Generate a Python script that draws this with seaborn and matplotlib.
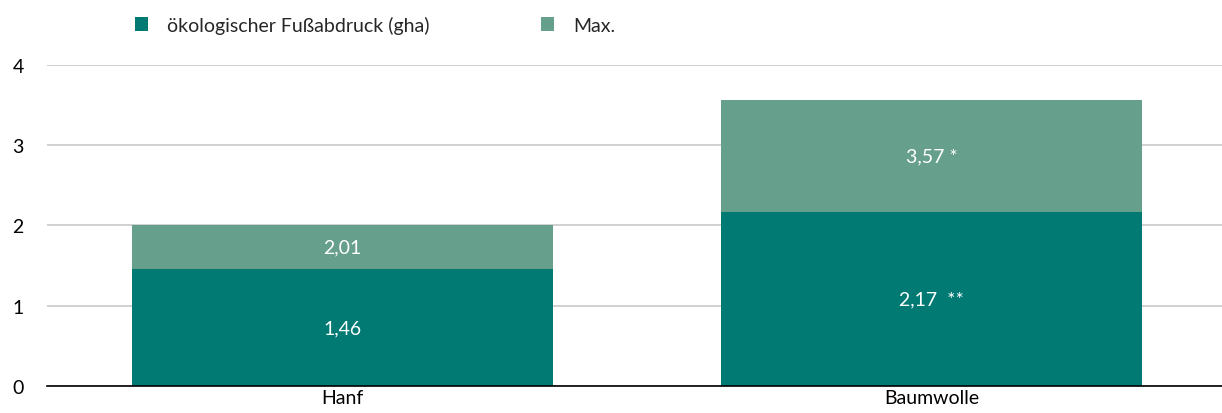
import matplotlib
matplotlib.use("Agg")
import matplotlib.pyplot as plt
import seaborn as sns
import pandas as pd
from matplotlib.patches import Patch

# Data
categories = ["Hanf", "Baumwolle"]
footprint = [1.46, 2.17]          # ökologischer Fußabdruck (gha)
maximum = [2.01, 3.57]            # Max.
footprint_labels = ["1,46", "2,17  **"]
maximum_labels = ["2,01", "3,57 *"]
y_ticks = [0, 1, 2, 3, 4]

dark = "#007A73"
light = "#66A08C"

sns.set_theme(style="white")
plt.rcParams["font.family"] = ["Lato", "DejaVu Sans"]

df = pd.DataFrame({"cat": categories, "val": footprint, "max": maximum})

fig = plt.figure(figsize=(12.22, 4.14), dpi=100)
ax = fig.add_axes([0.0385, 0.0652, 0.9615, 0.7754])

width = 0.715
sns.barplot(data=df, x="cat", y="max", color=light, saturation=1, width=width,
            linewidth=0, ax=ax, zorder=2)
sns.barplot(data=df, x="cat", y="val", color=dark, saturation=1, width=width,
            linewidth=0, ax=ax, zorder=3)

ax.set_xlim(-0.502, 1.493)
ax.set_ylim(0, 4)
ax.set_yticks(y_ticks)
ax.set_xlabel("")
ax.set_ylabel("")
for s in ["top", "right", "left"]:
    ax.spines[s].set_visible(False)
ax.spines["bottom"].set_color("black")
ax.spines["bottom"].set_linewidth(1.2)
ax.spines["bottom"].set_zorder(5)
ax.yaxis.grid(True, color="#C8C8C8", linewidth=1.2, zorder=0)
ax.set_axisbelow(True)
ax.tick_params(axis="both", length=0, labelsize=14, colors="black")
ax.tick_params(axis="y", pad=25)
ax.tick_params(axis="x", pad=2)
for lbl in ax.get_yticklabels():
    lbl.set_horizontalalignment("left")

# Value labels centred in each segment
for i in range(len(categories)):
    ax.text(i, footprint[i] / 2, footprint_labels[i], ha="center", va="center",
            color="white", fontsize=14, zorder=6)
    ax.text(i, (footprint[i] + maximum[i]) / 2, maximum_labels[i], ha="center",
            va="center", color="white", fontsize=14, zorder=6)

handles = [Patch(facecolor=dark, edgecolor="none"), Patch(facecolor=light, edgecolor="none")]
fig.legend(handles, ["ökologischer Fußabdruck (gha)", "Max."], loc="center left",
           bbox_to_anchor=(0.096, 0.938), ncol=2, frameon=False, fontsize=14,
           handlelength=0.68, handleheight=0.68, handletextpad=1.0, columnspacing=5.7)

fig.savefig("out.png", dpi=100)
